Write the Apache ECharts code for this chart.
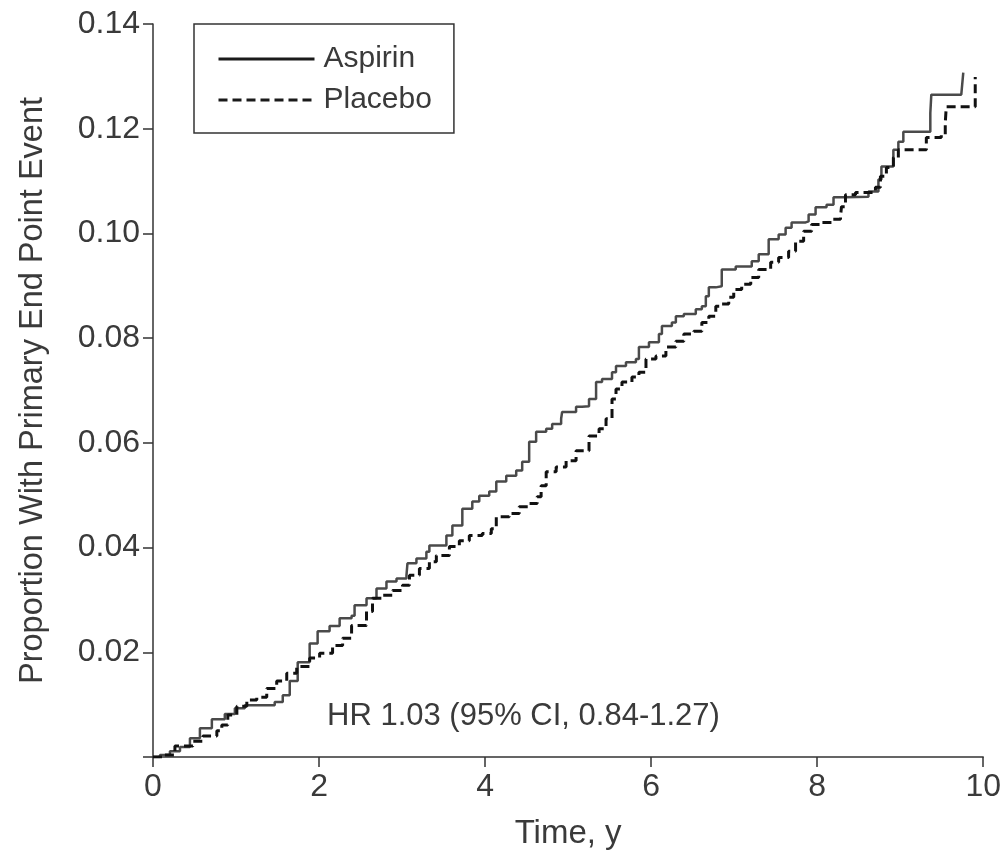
<!DOCTYPE html>
<html>
<head>
<meta charset="utf-8">
<script src="https://cdn.jsdelivr.net/npm/echarts@6/dist/echarts.min.js"></script>
<style>
  html, body { margin: 0; padding: 0; background: #fff; }
  #chart { width: 1004px; height: 855px; }
</style>
</head>
<body>
<div id="chart"></div>
<script>
// time in years, cumulative proportion with primary end point event (step points)
const timeAspirin = [0, 0.084, 0.204, 0.325, 0.445, 0.565, 0.709, 0.865, 0.986, 1.106, 1.466, 1.563, 1.647, 1.743, 1.887, 1.983,
  2.127, 2.248, 2.392, 2.428, 2.572, 2.692, 2.812, 2.933, 3.053, 3.065, 3.173, 3.293, 3.329, 3.474, 3.534, 3.606, 3.726, 3.846, 3.930,
  4.050, 4.135, 4.255, 4.375, 4.447, 4.531, 4.615, 4.736, 4.808, 4.916, 4.928, 5.096, 5.168, 5.252, 5.337, 5.409, 5.529, 5.577, 5.697,
  5.817, 5.853, 5.974, 6.094, 6.130, 6.250, 6.298, 6.394, 6.538, 6.611, 6.659, 6.695, 6.779, 6.851, 7.019, 7.212, 7.296, 7.416, 7.536,
  7.620, 7.692, 7.861, 7.897, 7.981, 8.113, 8.197, 8.341, 8.618, 8.738, 8.774, 8.882, 8.918, 8.978, 9.038, 9.315, 9.363, 9.375, 9.736, 9.760]
const propAspirin = [0, 0.0004, 0.0011, 0.0019, 0.0036, 0.0055, 0.0072, 0.0082, 0.0093, 0.0099, 0.0105, 0.0118, 0.0145, 0.0181, 0.0217, 0.0240,
  0.0250, 0.0265, 0.0270, 0.0290, 0.0303, 0.0322, 0.0335, 0.0341, 0.0347, 0.0370, 0.0379, 0.0392, 0.0404, 0.0404, 0.0423, 0.0442, 0.0474, 0.0488, 0.0499,
  0.0507, 0.0526, 0.0537, 0.0547, 0.0564, 0.0602, 0.0621, 0.0627, 0.0636, 0.0646, 0.0659, 0.0669, 0.0670, 0.0684, 0.0716, 0.0722, 0.0735, 0.0747, 0.0754,
  0.0760, 0.0783, 0.0792, 0.0808, 0.0823, 0.0830, 0.0842, 0.0846, 0.0855, 0.0861, 0.0880, 0.0897, 0.0899, 0.0931, 0.0937, 0.0947, 0.0960, 0.0989, 0.0998,
  0.1011, 0.1021, 0.1023, 0.1036, 0.1050, 0.1055, 0.1069, 0.1070, 0.1080, 0.1103, 0.1128, 0.1128, 0.1160, 0.1175, 0.1194, 0.1194, 0.1230, 0.1265, 0.1265, 0.1307]

const timePlacebo = [0, 0.120, 0.264, 0.481, 0.601, 0.769, 0.829, 0.901, 1.010, 1.130, 1.250, 1.370, 1.490, 1.611, 1.731, 1.887,
  2.007, 2.163, 2.284, 2.392, 2.572, 2.644, 2.764, 2.885, 3.005, 3.089, 3.209, 3.329, 3.413, 3.570, 3.690, 3.810, 3.966,
  4.075, 4.135, 4.291, 4.411, 4.531, 4.627, 4.675, 4.736, 4.856, 4.976, 5.096, 5.252, 5.373, 5.457, 5.529, 5.577, 5.649, 5.769,
  5.853, 5.938, 6.058, 6.178, 6.298, 6.394, 6.514, 6.611, 6.695, 6.779, 6.851, 6.935, 6.995, 7.091, 7.200, 7.296, 7.440, 7.536,
  7.656, 7.740, 7.837, 7.933, 8.053, 8.173, 8.281, 8.293, 8.341, 8.462, 8.702, 8.762, 8.834, 8.918, 8.978, 9.243, 9.315, 9.495,
  9.543, 9.555, 9.856, 9.904]
const propPlacebo = [0, 0.0004, 0.0021, 0.0030, 0.0040, 0.0050, 0.0061, 0.0080, 0.0097, 0.0109, 0.0114, 0.0131, 0.0145, 0.0160, 0.0173, 0.0189,
  0.0198, 0.0213, 0.0227, 0.0251, 0.0278, 0.0303, 0.0309, 0.0318, 0.0328, 0.0347, 0.0360, 0.0373, 0.0385, 0.0402, 0.0413, 0.0423, 0.0427,
  0.0436, 0.0459, 0.0465, 0.0478, 0.0484, 0.0497, 0.0518, 0.0545, 0.0554, 0.0566, 0.0585, 0.0613, 0.0627, 0.0646, 0.0684, 0.0703, 0.0716, 0.0726,
  0.0735, 0.0760, 0.0766, 0.0783, 0.0794, 0.0808, 0.0813, 0.0830, 0.0842, 0.0861, 0.0865, 0.0878, 0.0893, 0.0903, 0.0916, 0.0931, 0.0945, 0.0954,
  0.0966, 0.0985, 0.1004, 0.1017, 0.1021, 0.1027, 0.1032, 0.1051, 0.1074, 0.1078, 0.1088, 0.1109, 0.1126, 0.1145, 0.1160, 0.1160, 0.1183, 0.1189,
  0.1211, 0.1242, 0.1242, 0.1299]

const xTicks = [0, 2, 4, 6, 8, 10]
const yTicks = [0.02, 0.04, 0.06, 0.08, 0.10, 0.12, 0.14]
const hrText = 'HR 1.03 (95% CI, 0.84-1.27)'

const font = 'Liberation Sans, Arial, Helvetica, sans-serif'
const txt = '#3a3a3a'
const axisColor = '#333'

const chart = echarts.init(document.getElementById('chart'))

const option = {
  animation: false,
  textStyle: { fontFamily: font },
  grid: {
    left: 153,
    right: 19,
    top: 24,
    bottom: 96,
  },
  title: {
    text: hrText,
    left: 327,
    top: 701,
    padding: 0,
    textStyle: { fontFamily: font, fontSize: 31, fontWeight: 'normal', color: txt },
  },
  legend: {
    orient: 'vertical',
    left: 194,
    top: 24,
    padding: [20, 22, 18, 23],
    borderColor: axisColor,
    borderWidth: 1.5,
    itemWidth: 96,
    itemHeight: 30,
    itemGap: 11,
    itemStyle: { opacity: 0 },
    lineStyle: { width: 3, color: '#1a1a1a' },
    textStyle: { fontFamily: font, fontSize: 30, color: txt, padding: [0, 0, 0, 4] },
    data: ['Aspirin', 'Placebo'],
  },
  xAxis: {
    type: 'value',
    min: 0,
    max: 10,
    interval: 2,
    name: 'Time, y',
    nameLocation: 'middle',
    nameGap: 60,
    nameTextStyle: { fontFamily: font, fontSize: 33, color: txt },
    axisLine: { lineStyle: { color: axisColor, width: 1.5 } },
    axisTick: { show: true, length: 10, lineStyle: { color: axisColor, width: 1.5 } },
    axisLabel: {
      fontSize: 32,
      color: txt,
      margin: 14,
      formatter: v => (xTicks.includes(v) ? String(v) : ''),
    },
    splitLine: { show: false },
  },
  yAxis: {
    type: 'value',
    min: 0,
    max: 0.14,
    interval: 0.02,
    name: 'Proportion With Primary End Point Event',
    nameLocation: 'middle',
    nameGap: 103,
    nameTextStyle: { fontFamily: font, fontSize: 32.5, color: txt },
    axisLine: { show: true, lineStyle: { color: axisColor, width: 1.5 } },
    axisTick: { show: true, length: 10, lineStyle: { color: axisColor, width: 1.5 } },
    axisLabel: {
      fontSize: 32,
      color: txt,
      margin: 13,
      formatter: (v) => {
        const hit = yTicks.find(t => Math.abs(t - v) < 1e-9)
        return hit === undefined ? '' : hit.toFixed(2)
      },
    },
    splitLine: { show: false },
  },
  series: [
    {
      name: 'Aspirin',
      type: 'line',
      step: 'end',
      symbol: 'none',
      showSymbol: false,
      lineStyle: { color: '#4a4a4a', width: 2.5 },
      itemStyle: { color: '#4a4a4a' },
      data: timeAspirin.map((t, i) => [t, propAspirin[i]]),
    },
    {
      name: 'Placebo',
      type: 'line',
      step: 'end',
      symbol: 'none',
      showSymbol: false,
      lineStyle: { color: '#111', width: 3, type: [9, 5] },
      itemStyle: { color: '#111' },
      data: timePlacebo.map((t, i) => [t, propPlacebo[i]]),
    },
  ],
}

chart.setOption(option)
</script>
</body>
</html>
